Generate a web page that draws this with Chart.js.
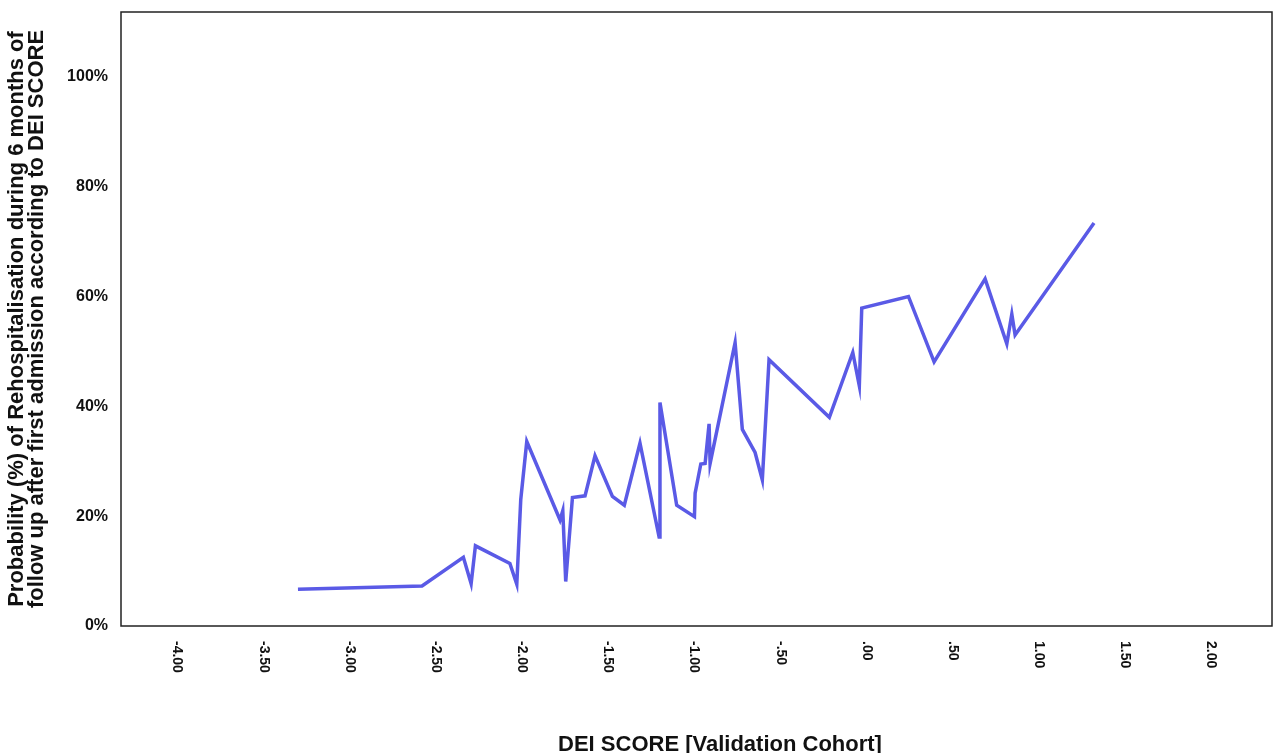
<!DOCTYPE html>
<html>
<head>
<meta charset="utf-8">
<script src="https://cdn.jsdelivr.net/npm/chart.js@4/dist/chart.umd.min.js"></script>
<style>
  html, body { margin: 0; padding: 0; background: #ffffff; }
  #wrap { width: 1274px; height: 753px; position: relative; }
</style>
</head>
<body>
<div id="wrap"><canvas id="c"></canvas></div>
<script>
// DEI score (x) and probability of rehospitalisation in % (y)
const deiScores = [-3.30, -2.58, -2.34, -2.295, -2.27, -2.07, -2.03, -2.007, -1.972, -1.779,
  -1.763, -1.746, -1.707, -1.634, -1.576, -1.475, -1.406, -1.315, -1.204, -1.199,
  -1.102, -0.999, -0.995, -0.962, -0.937, -0.914, -0.908, -0.763, -0.721, -0.647,
  -0.605, -0.566, -0.216, -0.080, -0.042, -0.028, 0.243, 0.392, 0.688, 0.814,
  0.843, 0.862, 1.320];
const probabilities = [6.7, 7.3, 12.5, 7.7, 14.6, 11.4, 7.6, 23.0, 33.6, 19.3,
  21.0, 8.1, 23.4, 23.7, 31.0, 23.6, 22.0, 33.3, 16.2, 40.7,
  22.0, 19.9, 24.2, 29.5, 29.6, 36.8, 29.6, 51.6, 35.8, 31.6,
  26.6, 48.5, 38.0, 49.8, 43.7, 57.9, 60.0, 48.1, 63.2, 51.4,
  56.8, 53.0, 73.4];
const xTickValues = [-4, -3.5, -3, -2.5, -2, -1.5, -1, -0.5, 0, 0.5, 1, 1.5, 2];
const xTickLabels = ['-4.00', '-3.50', '-3.00', '-2.50', '-2.00', '-1.50', '-1.00', '-.50', '.00', '.50', '1.00', '1.50', '2.00'];
const yTickValues = [0, 20, 40, 60, 80, 100];
const yTitleLines = ['Probability (%) of Rehospitalisation during 6 months of',
  'follow up after first admission according to DEI SCORE'];
const xTitle = 'DEI SCORE [Validation Cohort]';

const FONT = "Arial, 'Liberation Sans', Helvetica, sans-serif";

const framePlugin = {
  id: 'frameAndLabels',
  afterDraw(chart) {
    const ctx = chart.ctx;
    const a = chart.chartArea;
    const xs = chart.scales.x;
    ctx.save();
    // frame
    ctx.strokeStyle = '#222';
    ctx.lineWidth = 1.5;
    ctx.strokeRect(a.left, a.top, a.right - a.left, a.bottom - a.top);
    // rotated x tick labels (reading top to bottom)
    ctx.fillStyle = '#111';
    ctx.font = 'bold 14px ' + FONT;
    ctx.textAlign = 'left';
    ctx.textBaseline = 'middle';
    xTickValues.forEach((v, i) => {
      const px = xs.getPixelForValue(v);
      ctx.save();
      ctx.translate(px, a.bottom + 15);
      ctx.rotate(Math.PI / 2);
      ctx.fillText(xTickLabels[i], 0, 0);
      ctx.restore();
    });
    // x axis title
    ctx.font = 'bold 22px ' + FONT;
    ctx.textAlign = 'center';
    ctx.textBaseline = 'alphabetic';
    ctx.fillText(xTitle, 720, 751);
    ctx.restore();
  }
};

new Chart(document.getElementById('c'), {
  type: 'scatter',
  data: {
    datasets: [{
      data: deiScores.map((x, i) => ({ x: x, y: probabilities[i] })),
      showLine: true,
      borderColor: '#5a5ae6',
      borderWidth: 3.5,
      borderJoinStyle: 'miter',
      pointRadius: 0,
      pointHoverRadius: 0,
      fill: false,
      tension: 0
    }]
  },
  options: {
    responsive: true,
    maintainAspectRatio: false,
    animation: false,
    events: [],
    layout: { padding: { top: 12, right: 2, left: 0, bottom: 0 } },
    plugins: { legend: { display: false }, tooltip: { enabled: false } },
    scales: {
      x: {
        type: 'linear',
        min: -4.327,
        max: 2.353,
        grid: { display: false, drawTicks: false },
        border: { display: false },
        ticks: { display: false },
        afterBuildTicks(scale) { scale.ticks = xTickValues.map(v => ({ value: v })); },
        afterFit(scale) { scale.height = 127; scale.paddingLeft = 0; scale.paddingRight = 0; }
      },
      y: {
        type: 'linear',
        min: 0,
        max: 111.8,
        grid: { display: false, drawTicks: false },
        border: { display: false },
        ticks: {
          color: '#111',
          padding: 13,
          font: { family: FONT, size: 16, weight: 'bold' },
          callback: v => v + '%'
        },
        afterBuildTicks(scale) { scale.ticks = yTickValues.map(v => ({ value: v })); },
        afterFit(scale) { scale.width = 121; scale.paddingTop = 0; scale.paddingBottom = 0; },
        title: {
          display: true,
          text: yTitleLines,
          color: '#111',
          font: { family: FONT, size: 22, weight: 'bold', lineHeight: '20px' },
          padding: { top: 7, bottom: 0 }
        }
      }
    }
  },
  plugins: [framePlugin]
});
</script>
</body>
</html>
